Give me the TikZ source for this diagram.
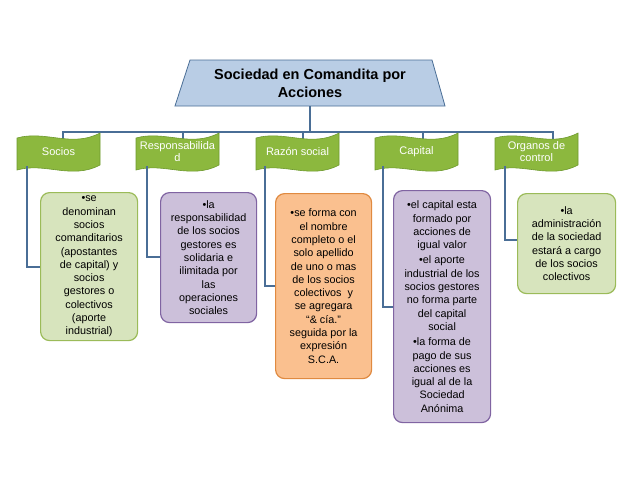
\documentclass[tikz,border=0pt]{standalone}
\usepackage{fontspec}
\setmainfont{Liberation Sans}
\definecolor{bline}{HTML}{4A6E96}
\definecolor{ban}{HTML}{8CB83E}
\definecolor{banD}{HTML}{6E9A2E}
\definecolor{lgreen}{HTML}{D7E4BD}
\definecolor{lgreenD}{HTML}{9BBB59}
\definecolor{lpurp}{HTML}{CCC0DA}
\definecolor{lpurpD}{HTML}{8064A2}
\definecolor{lor}{HTML}{FAC08F}
\definecolor{lorD}{HTML}{E08A40}
\definecolor{ttl}{HTML}{B9CDE5}
\tikzset{
 conn/.style={draw=bline,line width=1.2pt},
 bantext/.style={text=white,font=\fontsize{11}{12}\selectfont,align=center,inner sep=0pt},
 boxbase/.style={rounded corners=9pt,line width=1.2pt,align=center,font=\fontsize{10.8}{13.3}\selectfont,inner sep=1pt,anchor=north west},
 gbox/.style={boxbase,fill=lgreen,draw=lgreenD},
 pbox/.style={boxbase,fill=lpurp,draw=lpurpD},
 obox/.style={boxbase,fill=lor,draw=lorD},
}
\newcommand{\mybanner}[3]{%
 \fill[ban,draw=banD,line width=0.6pt] (#2,138) .. controls (#2+28,130) and (#2+55,148) .. (#2+83,133)
   -- (#2+83,165) .. controls (#2+55,180) and (#2+28,162) .. (#2,170) -- cycle;
 \node[bantext] (#1) at (#2+41.5,152) {#3};}
\begin{document}
\begin{tikzpicture}[x=1pt,y=-1pt]
\useasboundingbox (0,0) rectangle (638,479);
\fill[white] (0,0) rectangle (638,479);
% title
\draw[fill=ttl,draw=bline,line width=0.8pt] (190,60) -- (432,60) -- (445,106) -- (175,106) -- cycle;
\node[font=\bfseries\fontsize{14.5}{18}\selectfont,align=center] (title) at (310,83) {Sociedad en Comandita por\\Acciones};
\coordinate (hub) at (310,132);
\draw[conn] (310,106) -- (hub);
\draw[conn] (63,140) -- (63,132) -- (553,132) -- (553,140);
\foreach \x in {183,303,423} \draw[conn] (\x,132) -- (\x,140);
\mybanner{b1}{17}{Socios}
\mybanner{b2}{136}{Responsabilida\\d}
\mybanner{b3}{256}{Razón social}
\mybanner{b4}{375}{Capital}
\mybanner{b5}{495}{Organos de\\control}
% detail boxes
\node[gbox,minimum width=97pt,minimum height=148pt] (d1) at (40,192) {\textbullet se\\denominan\\socios\\comanditarios\\(apostantes\\de capital) y\\socios\\gestores o\\colectivos\\(aporte\\industrial)};
\node[pbox,minimum width=96pt,minimum height=130pt] (d2) at (160,192) {\textbullet la\\responsabilidad\\de los socios\\gestores es\\solidaria e\\ilimitada por\\las\\operaciones\\sociales};
\node[obox,minimum width=96pt,minimum height=185pt] (d3) at (275,193) {\textbullet se forma con\\el nombre\\completo o el\\solo apellido\\de uno o mas\\de los socios\\colectivos \ y\\se agregara\\“\& cía.”\\seguida por la\\expresión\\S.C.A.};
\node[pbox,minimum width=97pt,minimum height=232pt] (d4) at (393,190) {\textbullet el capital esta\\formado por\\acciones de\\igual valor\\[2pt]\textbullet el aporte\\industrial de los\\socios gestores\\no forma parte\\del capital\\social\\[2pt]\textbullet la forma de\\pago de sus\\acciones es\\igual al de la\\Sociedad\\Anónima};
\node[gbox,minimum width=98pt,minimum height=100pt] (d5) at (517,193) {\textbullet la\\administración\\de la sociedad\\estará a cargo\\de los socios\\colectivos};
\draw[conn] (27,166) |- (d1.west |- 0,267);
\draw[conn] (147,166) |- (d2.west |- 0,257);
\draw[conn] (265,166) |- (d3.west |- 0,286);
\draw[conn] (383,166) |- (d4.west |- 0,307);
\draw[conn] (505,166) |- (d5.west |- 0,240);
\end{tikzpicture}
\end{document}
